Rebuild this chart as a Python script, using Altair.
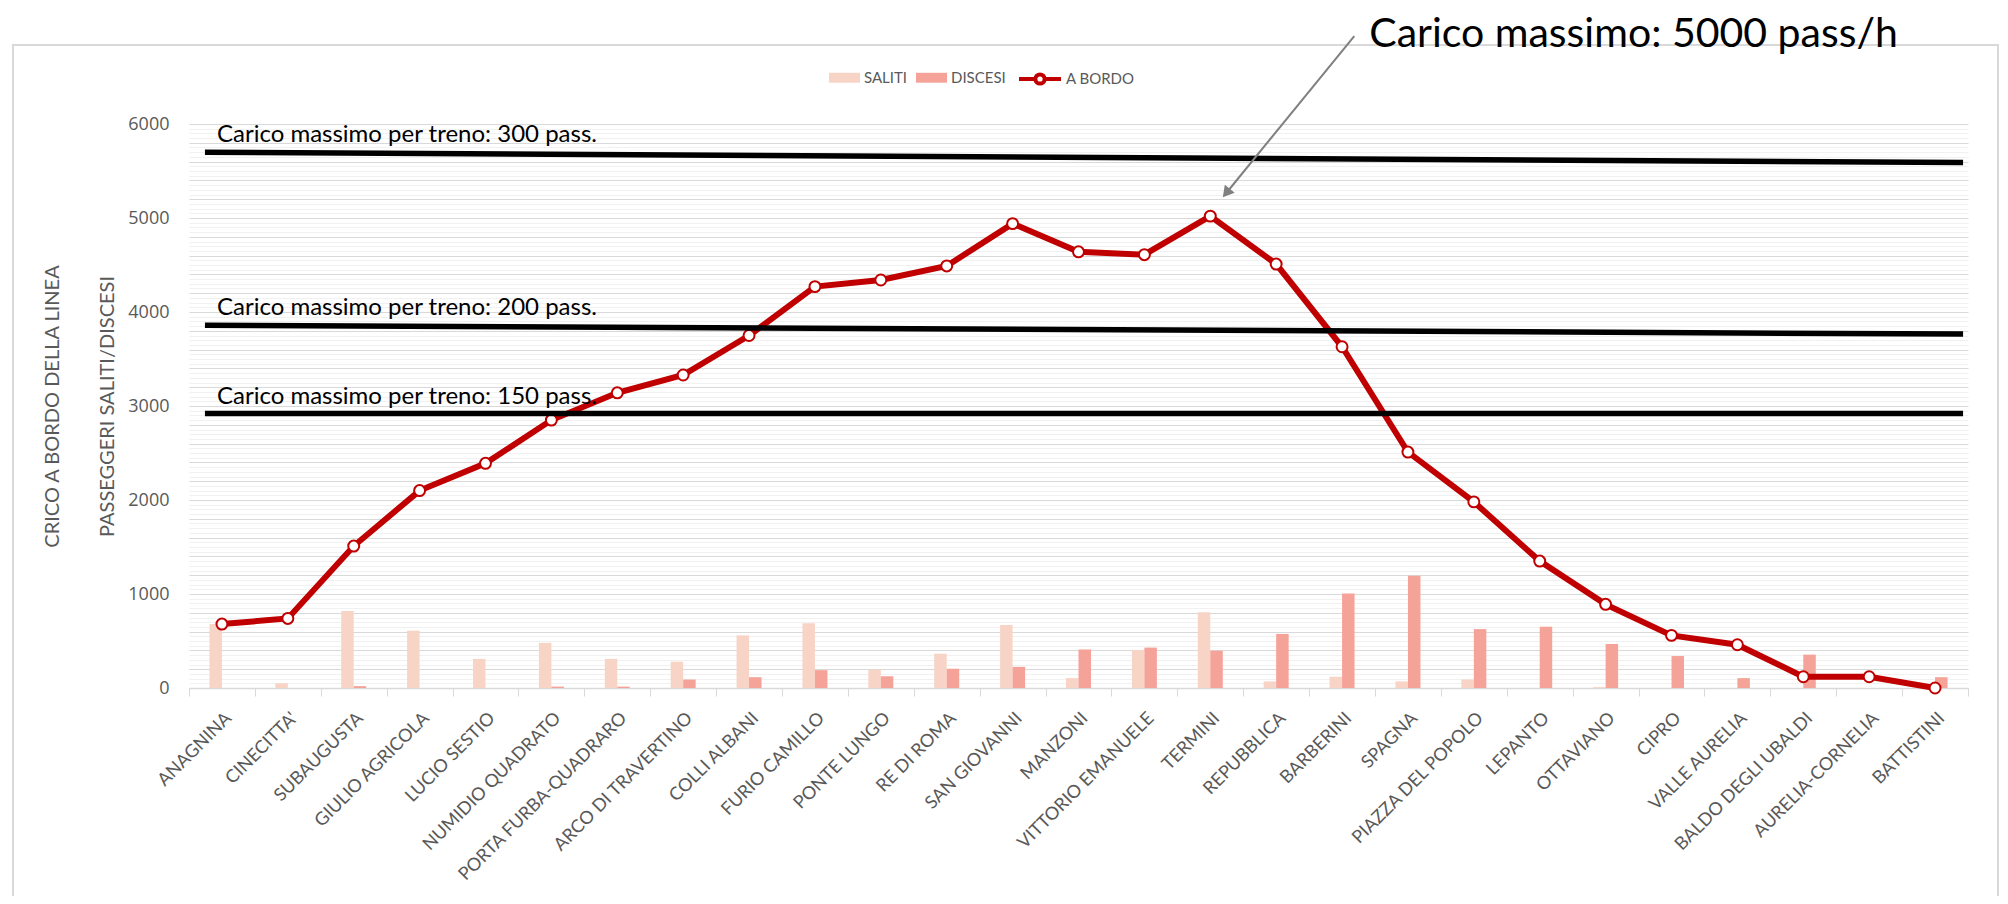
import altair as alt
import pandas as pd

stations = ["ANAGNINA", "CINECITTA'", "SUBAUGUSTA", "GIULIO AGRICOLA", "LUCIO SESTIO",
            "NUMIDIO QUADRATO", "PORTA FURBA-QUADRARO", "ARCO DI TRAVERTINO", "COLLI ALBANI",
            "FURIO CAMILLO", "PONTE LUNGO", "RE DI ROMA", "SAN GIOVANNI", "MANZONI",
            "VITTORIO EMANUELE", "TERMINI", "REPUBBLICA", "BARBERINI", "SPAGNA",
            "PIAZZA DEL POPOLO", "LEPANTO", "OTTAVIANO", "CIPRO", "VALLE AURELIA",
            "BALDO DEGLI UBALDI", "AURELIA-CORNELIA", "BATTISTINI"]
saliti = [680, 50, 820, 610, 310, 480, 310, 280, 560, 690, 195, 365, 670, 105, 405,
          805, 70, 120, 70, 90, 0, 10, 0, 0, 0, 0, 0]
discesi = [0, 0, 20, 0, 0, 15, 15, 90, 115, 190, 125, 205, 225, 410, 430,
           395, 575, 1005, 1195, 627, 652, 468, 340, 105, 355, 0, 115]
a_bordo = [680, 740, 1510, 2100, 2390, 2850, 3140, 3330, 3750, 4270, 4340, 4490, 4940,
           4640, 4610, 5020, 4510, 3630, 2510, 1980, 1350, 890, 560, 460, 120, 120, 0]

serie_bar = ["SALITI", "DISCESI"]
colori_bar = ["#f8d4c7", "#f5a398"]
serie_linea = ["A BORDO"]
colore_linea = "#c00000"

soglie_label = ["Carico massimo per treno: 300 pass.",
                "Carico massimo per treno: 200 pass.",
                "Carico massimo per treno: 150 pass."]
soglie_inizio = [5700, 3860, 2920]
soglie_fine = [5590, 3765, 2920]

picco_label = "Carico massimo: 5000 pass/h"
picco_stazione = "TERMINI"
freccia_punta = 5266
freccia_coda = 6936
picco_testo_y = 6950

y_ticks = list(range(0, 6001, 50))

NARROW = "Liberation Sans Narrow, Lato, sans-serif"
LATO = "Lato, sans-serif"
GREY = "#595959"

df = pd.DataFrame({"stazione": stations, "SALITI": saliti, "DISCESI": discesi, "a_bordo": a_bordo})
bars_df = df.melt(id_vars="stazione", value_vars=serie_bar, var_name="serie", value_name="valore")
soglie_df = pd.DataFrame({"label": soglie_label, "y0": soglie_inizio, "y1": soglie_fine,
                          "da": stations[0], "a": stations[-1]})
picco_df = pd.DataFrame({"stazione": [picco_stazione], "punta": [freccia_punta],
                         "coda": [freccia_coda], "ty": [picco_testo_y], "label": [picco_label]})

W, H = 1779, 564
BW = 12.5
xscale = alt.Scale(domain=stations, paddingInner=0, paddingOuter=0)
yscale = alt.Scale(domain=[0, 6000], nice=False, zero=True)

x_axis = alt.Axis(title=None, orient="bottom", labelAngle=-45, labelAlign="right",
                  labelFont=LATO, labelFontSize=18, labelColor=GREY, labelPadding=13,
                  labelLimit=0, tickBand="extent", tickSize=8, tickColor="#d9d9d9",
                  domainColor="#d9d9d9", domainWidth=1.5, grid=False)

y_axis = alt.Axis(values=y_ticks, format="d",
                  labelExpr="datum.value % 1000 === 0 ? datum.label : ''",
                  grid=True,
                  gridColor={"condition": {"test": "datum.value % 200 === 0", "value": "#d9d9d9"},
                             "value": "#f1f1f1"},
                  gridWidth=1, domain=False, ticks=False,
                  labelFont="Open Sans", labelFontSize=18, labelColor=GREY, labelPadding=20,
                  title=["CRICO A BORDO DELLA LINEA", "PASSEGGERI SALITI/DISCESI"],
                  titleFont=NARROW, titleFontSize=20, titleFontWeight="normal",
                  titleColor=GREY, titleX=-127, titleY=H / 2, titleAlign="center",
                  titleBaseline="bottom", titleLineHeight=55, titleAngle=270)


def X(field):
    return alt.X(field, scale=xscale, axis=x_axis)


def Y(field):
    return alt.Y(field, scale=yscale, axis=y_axis)


bar_legend = alt.Legend(orient="none", legendX=640, legendY=-62, direction="horizontal",
                        title=None, symbolType="M-1,-0.32H1V0.32H-1Z", symbolSize=961,
                        symbolStrokeWidth=0, labelFont=NARROW, labelFontSize=15,
                        labelColor=GREY, columnPadding=8, labelOffset=4, padding=0)
bar_color = alt.Color("serie:N", scale=alt.Scale(domain=serie_bar, range=colori_bar), legend=bar_legend)

frame = alt.Chart(alt.Data(values=[{}])).mark_rect(
    fillOpacity=0, stroke="#d9d9d9", strokeWidth=2
).encode(x=alt.value(-176), x2=alt.value(1809), y=alt.value(-79), y2=alt.value(790))

bars_base = alt.Chart(bars_df)
bars_s = bars_base.transform_filter(alt.datum.serie == "SALITI").mark_bar(width=BW, xOffset=-BW / 2).encode(
    x=X("stazione:N"), y=Y("valore:Q"), color=bar_color,
)
bars_d = bars_base.transform_filter(alt.datum.serie == "DISCESI").mark_bar(width=BW, xOffset=BW / 2).encode(
    x=X("stazione:N"), y=Y("valore:Q"), color=bar_color,
)

line = alt.Chart(df).transform_calculate(linea="'A BORDO'").mark_line(strokeWidth=6).encode(
    x=X("stazione:N"), y=Y("a_bordo:Q"),
    stroke=alt.Stroke("linea:N", scale=alt.Scale(domain=serie_linea, range=[colore_linea]),
                      legend=alt.Legend(orient="none", legendX=828, legendY=-68, direction="horizontal",
                                        title=None,
                                        symbolType="M-1,0H-0.22M0.22,0H1M0.22,0A0.22,0.22,0,1,1,-0.22,0A0.22,0.22,0,1,1,0.22,0",
                                        symbolSize=1764, symbolStrokeWidth=4, symbolFillColor="white",
                                        labelFont=NARROW, labelFontSize=15, labelColor=GREY,
                                        labelOffset=3, padding=0)),
)

points = alt.Chart(df).mark_point(shape="circle", size=120, filled=True, fill="white",
                                  stroke=colore_linea, strokeWidth=2, opacity=1).encode(
    x=X("stazione:N"), y=Y("a_bordo:Q"),
)

rules = alt.Chart(soglie_df).mark_rule(color="black", strokeWidth=5.5, xOffset=-17, x2Offset=28).encode(
    x=X("da:N"), x2="a:N", y=Y("y0:Q"), y2="y1:Q",
)

soglie_text = alt.Chart(soglie_df).mark_text(align="left", baseline="bottom", dx=-5, dy=-5,
                                             font=LATO, fontSize=24, color="black").encode(
    x=X("da:N"), y=Y("y0:Q"), text="label:N",
)

arrow_line = alt.Chart(picco_df).mark_rule(color="#808080", strokeWidth=2, xOffset=16, x2Offset=144).encode(
    x=X("stazione:N"), x2="stazione:N", y=Y("punta:Q"), y2="coda:Q",
)

arrow_head = alt.Chart(picco_df).mark_point(shape="triangle-down", angle=39, filled=True,
                                            color="#808080", size=160, xOffset=16, opacity=1).encode(
    x=X("stazione:N"), y=Y("punta:Q"),
)

picco_text = alt.Chart(picco_df).mark_text(align="left", baseline="middle", dx=159,
                                           font=LATO, fontSize=41, color="black").encode(
    x=X("stazione:N"), y=Y("ty:Q"), text="label:N",
)

chart = alt.layer(frame, bars_s, bars_d, line, points, rules, soglie_text, arrow_line, arrow_head,
                  picco_text).properties(
    width=W, height=H,
    padding={"left": 181, "top": 116, "right": 32, "bottom": 208},
    autosize=alt.AutoSizeParams(type="none"),
    background="white",
).configure_view(stroke=None)

chart.save("out.html", embed_options={"renderer": "svg", "actions": False})
